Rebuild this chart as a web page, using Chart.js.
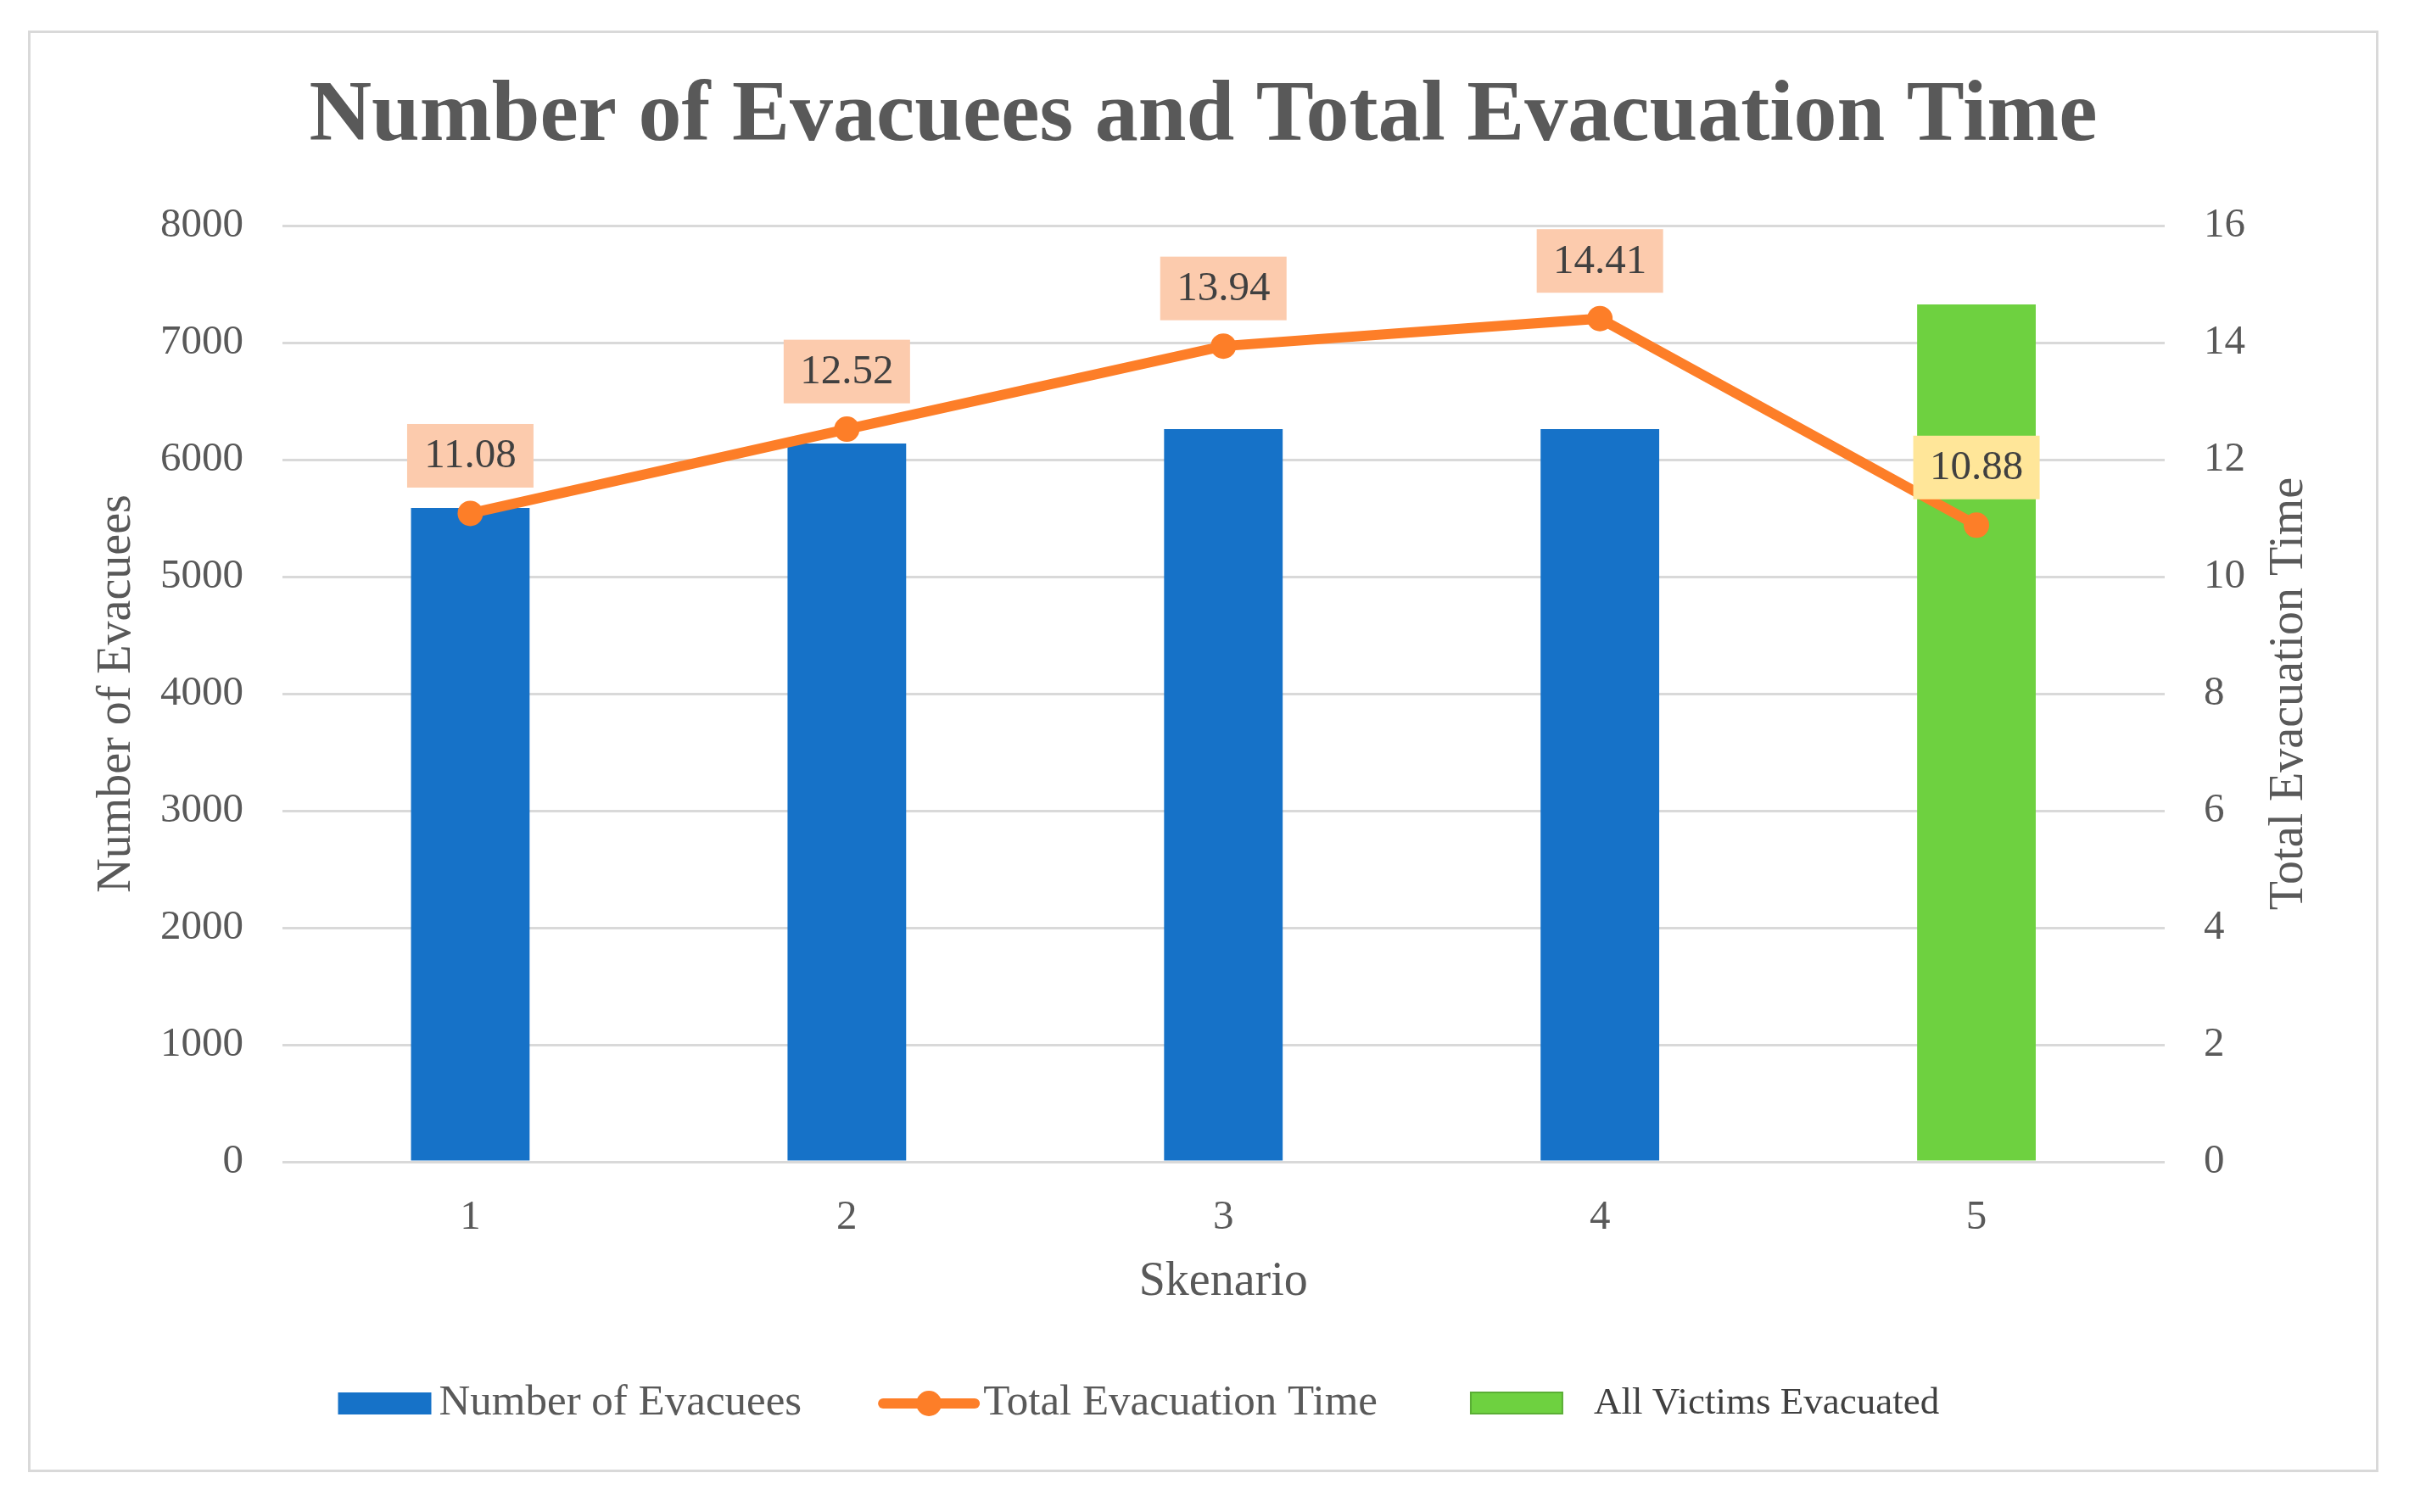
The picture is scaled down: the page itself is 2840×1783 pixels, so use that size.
<!DOCTYPE html>
<html>
<head>
<meta charset="utf-8">
<title>Number of Evacuees and Total Evacuation Time</title>
<script src="https://cdn.jsdelivr.net/npm/chart.js@4.4.1/dist/chart.umd.min.js"></script>
<style>
  html, body { margin: 0; padding: 0; background: #fff; }
  #frame {
    position: absolute; left: 33px; top: 36px;
    width: 2771px; height: 1700px;
    box-sizing: border-box; border: 3px solid #d9d9d9; background: #fff;
  }
  #frame canvas { display: block; }
</style>
</head>
<body>
<div id="frame"><canvas id="evacChart"></canvas></div>
<script>
// data
const scenarios = ['1', '2', '3', '4', '5'];
const evacuees = [5587, 6138, 6261, 6261, 7326];
const evacuationTime = [11.08, 12.52, 13.94, 14.41, 10.88];
const allVictimsEvacuated = [false, false, false, false, true];
const leftTicks = [0, 1000, 2000, 3000, 4000, 5000, 6000, 7000, 8000];
const rightTicks = [0, 2, 4, 6, 8, 10, 12, 14, 16];

const FONT = '"Liberation Serif", "Times New Roman", serif';
const TEXT = '#595959';
const BLUE = '#1672c8';
const GREEN = '#6ed140';
const ORANGE = '#fd7e28';
const CLEAR = 'rgba(0,0,0,0)';

Chart.defaults.font.family = FONT;
Chart.defaults.color = TEXT;

// value boxes above each point of the line
const valueLabels = {
  id: 'valueLabels',
  afterDatasetsDraw(chart) {
    const meta = chart.getDatasetMeta(1);
    const ctx = chart.ctx;
    ctx.save();
    ctx.font = `49px ${FONT}`;
    ctx.textAlign = 'center';
    ctx.textBaseline = 'middle';
    meta.data.forEach((pt, i) => {
      const cx = pt.x;
      const cy = pt.y - 68;
      ctx.fillStyle = allVictimsEvacuated[i] ? '#ffe699' : '#fccbad';
      ctx.fillRect(cx - 74.5, cy - 37.5, 149, 75);
      ctx.fillStyle = '#404040';
      ctx.fillText(evacuationTime[i].toFixed(2), cx, cy + 1);
    });
    ctx.restore();
  }
};

// secondary axis title reads bottom-to-top like the primary one
const rightTitle = {
  id: 'rightTitle',
  afterDraw(chart) {
    const s = chart.scales.y1;
    const ctx = chart.ctx;
    ctx.save();
    ctx.translate(s.right - 48 - 33.6, (s.top + s.bottom) / 2);
    ctx.rotate(-Math.PI / 2);
    ctx.font = `56px ${FONT}`;
    ctx.fillStyle = TEXT;
    ctx.textAlign = 'center';
    ctx.textBaseline = 'middle';
    ctx.fillText(s.options.title.text, 0, 0);
    ctx.restore();
  }
};

// legend in the style of the original (box / line with marker / box)
const bottomLegend = {
  id: 'bottomLegend',
  afterDraw(chart) {
    const ctx = chart.ctx;
    const ds = chart.data.datasets;
    const y = chart.chartArea.bottom + 285;
    let x = chart.chartArea.left + 66;
    ctx.save();
    ctx.textAlign = 'left';
    ctx.textBaseline = 'middle';

    ctx.fillStyle = BLUE;
    ctx.fillRect(x, y - 13, 110, 26);
    x += 110 + 9;
    ctx.font = `51px ${FONT}`;
    ctx.fillStyle = TEXT;
    ctx.fillText(ds[0].label, x, y);
    x += ctx.measureText(ds[0].label).width + 90;

    ctx.strokeStyle = ORANGE;
    ctx.lineWidth = 12;
    ctx.lineCap = 'round';
    ctx.beginPath();
    ctx.moveTo(x + 6, y);
    ctx.lineTo(x + 114, y);
    ctx.stroke();
    ctx.fillStyle = ORANGE;
    ctx.beginPath();
    ctx.arc(x + 60, y, 15, 0, Math.PI * 2);
    ctx.fill();
    x += 120 + 4;
    ctx.fillStyle = TEXT;
    ctx.fillText(ds[1].label, x, y);
    x += ctx.measureText(ds[1].label).width + 110;

    ctx.fillStyle = GREEN;
    ctx.fillRect(x, y - 13, 108, 25);
    ctx.strokeStyle = '#5aae35';
    ctx.lineWidth = 2;
    ctx.strokeRect(x, y - 13, 108, 25);
    x += 108 + 37;
    ctx.font = `45px ${FONT}`;
    ctx.fillStyle = '#404040';
    ctx.fillText(ds[2].label, x, y);
    ctx.restore();
  }
};

const blueData = evacuees.map((v, i) => (allVictimsEvacuated[i] ? null : v));
const greenData = evacuees.map((v, i) => (allVictimsEvacuated[i] ? v : null));

const ctx = document.getElementById('evacChart').getContext('2d');
const evacChart = new Chart(ctx, {
  data: {
    labels: scenarios,
    datasets: [
      {
        type: 'bar',
        label: 'Number of Evacuees',
        data: blueData,
        backgroundColor: BLUE,
        yAxisID: 'y',
        grouped: false,
        barPercentage: 0.315,
        categoryPercentage: 1,
        order: 2
      },
      {
        type: 'line',
        label: 'Total Evacuation Time',
        data: evacuationTime,
        borderColor: ORANGE,
        backgroundColor: ORANGE,
        borderWidth: 12,
        pointRadius: 15,
        pointBorderWidth: 0,
        pointBackgroundColor: ORANGE,
        tension: 0,
        yAxisID: 'y1',
        order: 0
      },
      {
        type: 'bar',
        label: 'All Victims Evacuated',
        data: greenData,
        backgroundColor: GREEN,
        yAxisID: 'y',
        grouped: false,
        barPercentage: 0.315,
        categoryPercentage: 1,
        order: 1
      }
    ]
  },
  options: {
    responsive: true,
    maintainAspectRatio: false,
    devicePixelRatio: 1,
    animation: false,
    layout: { padding: { left: 20, right: 20, top: 0, bottom: 121.5 } },
    plugins: {
      legend: { display: false },
      tooltip: { enabled: false },
      title: {
        display: true,
        text: 'Number of Evacuees and Total Evacuation Time',
        color: TEXT,
        font: { family: FONT, size: 102, weight: 'bold', lineHeight: 1.2 },
        padding: { top: 38.8, bottom: 65.8 }
      }
    },
    scales: {
      x: {
        offset: true,
        grid: { display: true, drawOnChartArea: false, color: CLEAR, tickLength: 36.6 },
        border: { display: false },
        ticks: { padding: 0, color: TEXT, font: { size: 49 } },
        title: {
          display: true,
          text: 'Skenario',
          color: TEXT,
          font: { size: 56, lineHeight: 1.2 },
          padding: { top: 13, bottom: 65.9 }
        }
      },
      y: {
        position: 'left',
        min: leftTicks[0],
        max: leftTicks[leftTicks.length - 1],
        grid: { color: '#d9d9d9', lineWidth: 3, tickColor: CLEAR, tickLength: 45.5 },
        border: { display: false },
        ticks: {
          stepSize: leftTicks[1] - leftTicks[0],
          padding: 0,
          color: TEXT,
          font: { size: 49 },
          callback: (v) => String(v)
        },
        title: {
          display: true,
          text: 'Number of Evacuees',
          color: TEXT,
          font: { size: 56, lineHeight: 1.2 },
          padding: { top: 48.4, bottom: 17.4 }
        }
      },
      y1: {
        position: 'right',
        min: rightTicks[0],
        max: rightTicks[rightTicks.length - 1],
        grid: { drawOnChartArea: false, color: CLEAR, tickLength: 46 },
        border: { display: false },
        ticks: {
          stepSize: rightTicks[1] - rightTicks[0],
          padding: 0,
          color: TEXT,
          font: { size: 49 },
          callback: (v) => String(v)
        },
        title: {
          display: true,
          text: 'Total Evacuation Time',
          color: CLEAR,
          font: { size: 56, lineHeight: 1.2 },
          padding: { top: 48, bottom: 18.8 }
        }
      }
    }
  },
  plugins: [valueLabels, rightTitle, bottomLegend]
});
</script>
</body>
</html>
